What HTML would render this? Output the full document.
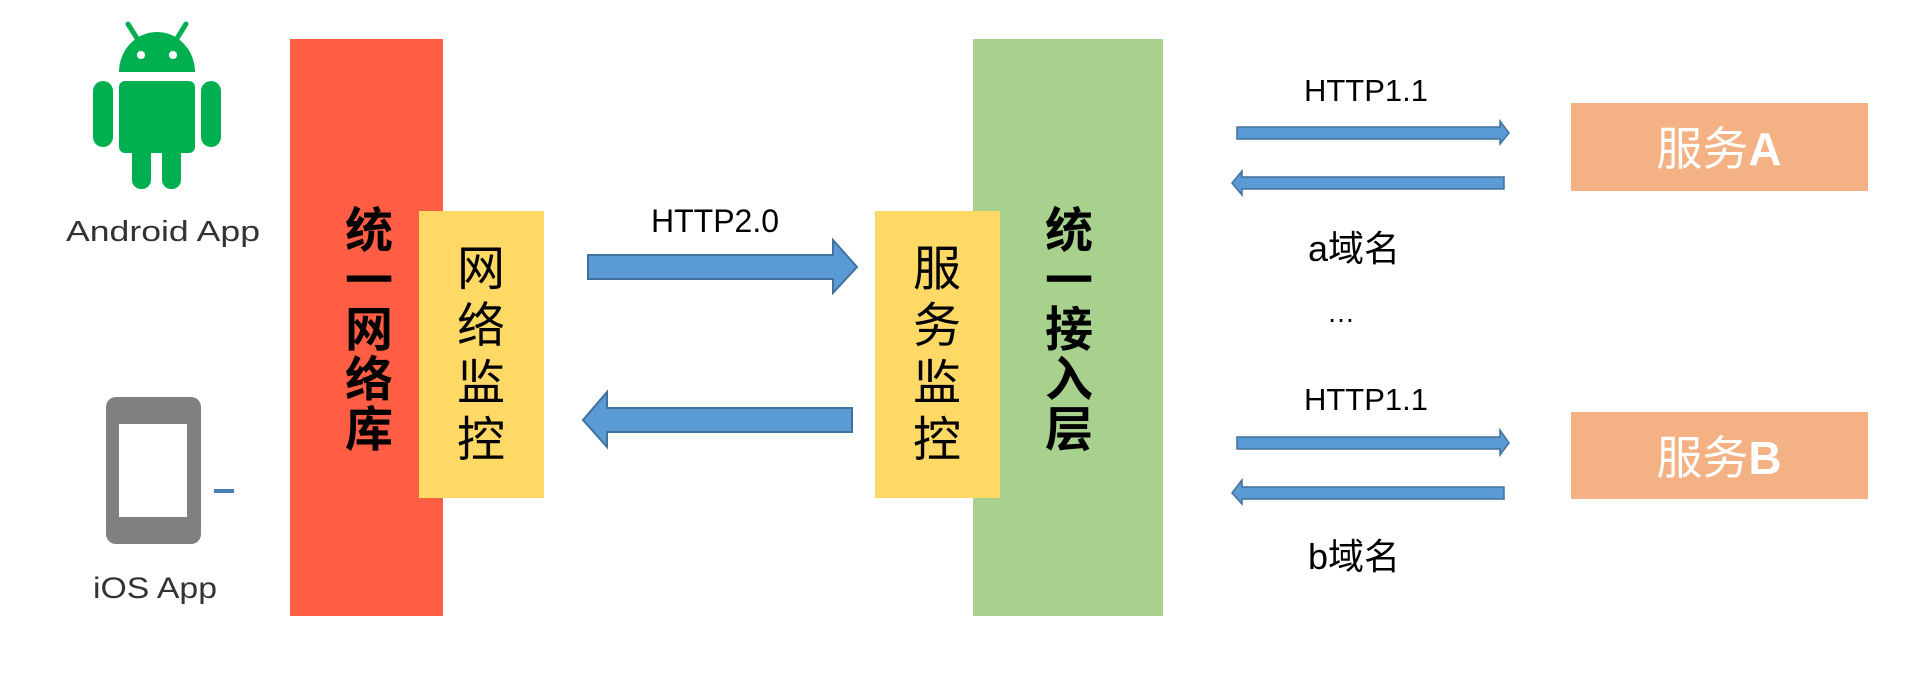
<!DOCTYPE html>
<html><head><meta charset="utf-8"><style>
html,body{margin:0;padding:0;background:#fff;}
svg{display:block;}
text{font-family:"Liberation Sans","Noto Sans CJK SC",sans-serif;}
.cj{font-family:"Noto Serif CJK SC","Noto Sans CJK SC",serif;}
</style></head><body>
<svg width="1920" height="684" viewBox="0 0 1920 684" xmlns="http://www.w3.org/2000/svg">
<rect width="1920" height="684" fill="#fff"/>
<!-- Android -->
<g fill="#00b050" stroke="none">
<path d="M119 72 A38 40 0 0 1 195 72 Z"/>
<line x1="128" y1="24" x2="138" y2="40" stroke="#00b050" stroke-width="5" stroke-linecap="round"/>
<line x1="186" y1="24" x2="176" y2="40" stroke="#00b050" stroke-width="5" stroke-linecap="round"/>
<rect x="119" y="81" width="76" height="72" rx="6"/>
<rect x="93" y="81" width="20" height="66" rx="10"/>
<rect x="201" y="81" width="20" height="66" rx="10"/>
<rect x="132" y="140" width="19" height="49" rx="9"/>
<rect x="162" y="140" width="19" height="49" rx="9"/>
</g>
<circle cx="141" cy="55" r="4" fill="#fff"/><circle cx="173" cy="55" r="4" fill="#fff"/>
<text x="66" y="241" font-size="29" fill="#333" textLength="194" lengthAdjust="spacingAndGlyphs">Android  App</text>
<!-- iOS -->
<rect x="106" y="397" width="95" height="147" rx="10" fill="#808080"/>
<rect x="119" y="424" width="68" height="93" fill="#fff"/>
<rect x="214" y="489" width="20" height="4" fill="#4a7ebb"/>
<text x="93" y="598" font-size="30" fill="#333" textLength="124" lengthAdjust="spacingAndGlyphs">iOS App</text>
<!-- red -->
<rect x="290" y="39" width="153" height="577" fill="#ff5e45"/>
<g class="cj" font-size="48" font-weight="bold" fill="#000" text-anchor="middle">
<text x="369" y="247">统</text><text x="369" y="297">一</text><text x="369" y="346">网</text><text x="369" y="396">络</text><text x="369" y="446">库</text>
</g>
<rect x="419" y="211" width="125" height="287" fill="#ffd966"/>
<g class="cj" font-size="48" fill="#000" text-anchor="middle">
<text x="481" y="285">网</text><text x="481" y="342">络</text><text x="481" y="399">监</text><text x="481" y="456">控</text>
</g>
<!-- HTTP2.0 arrows -->
<text x="715" y="232" font-size="32" text-anchor="middle" fill="#000">HTTP2.0</text>
<polygon points="588,255 833,255 833,240 857,267 833,293 833,279 588,279" fill="#5b9bd5" stroke="#41719c" stroke-width="2"/>
<polygon points="852,408 607,408 607,392 583,420 607,447 607,432 852,432" fill="#5b9bd5" stroke="#41719c" stroke-width="2"/>
<!-- green -->
<rect x="973" y="39" width="190" height="577" fill="#a9d18e"/>
<rect x="875" y="211" width="125" height="287" fill="#ffd966"/>
<g class="cj" font-size="48" fill="#000" text-anchor="middle">
<text x="937" y="285">服</text><text x="937" y="342">务</text><text x="937" y="399">监</text><text x="937" y="456">控</text>
</g>
<g class="cj" font-size="48" font-weight="bold" fill="#000" text-anchor="middle">
<text x="1069" y="247">统</text><text x="1069" y="297">一</text><text x="1069" y="346">接</text><text x="1069" y="396">入</text><text x="1069" y="446">层</text>
</g>
<!-- right side -->
<text x="1366" y="101" font-size="31" text-anchor="middle" fill="#000">HTTP1.1</text>
<polygon points="1237,127 1500,127 1500,121 1509,133 1500,144 1500,139 1237,139" fill="#5b9bd5" stroke="#41719c" stroke-width="1.5"/>
<polygon points="1504,177 1242,177 1242,171 1232,183 1242,195 1242,189 1504,189" fill="#5b9bd5" stroke="#41719c" stroke-width="1.5"/>
<rect x="1571" y="103" width="297" height="88" fill="#f4b183"/>
<text x="1719" y="165" font-size="46" text-anchor="middle" fill="#fff">服务<tspan font-weight="bold">A</tspan></text>
<text x="1354" y="261" font-size="36" text-anchor="middle" fill="#000">a域名</text>
<text x="1341" y="322" font-size="28" text-anchor="middle" fill="#000">…</text>
<text x="1366" y="410" font-size="31" text-anchor="middle" fill="#000">HTTP1.1</text>
<polygon points="1237,437 1500,437 1500,430 1509,443 1500,455 1500,449 1237,449" fill="#5b9bd5" stroke="#41719c" stroke-width="1.5"/>
<polygon points="1504,487 1242,487 1242,480 1232,493 1242,504 1242,499 1504,499" fill="#5b9bd5" stroke="#41719c" stroke-width="1.5"/>
<rect x="1571" y="412" width="297" height="87" fill="#f4b183"/>
<text x="1719" y="474" font-size="46" text-anchor="middle" fill="#fff">服务<tspan font-weight="bold">B</tspan></text>
<text x="1354" y="569" font-size="36" text-anchor="middle" fill="#000">b域名</text>
</svg>
</body></html>
